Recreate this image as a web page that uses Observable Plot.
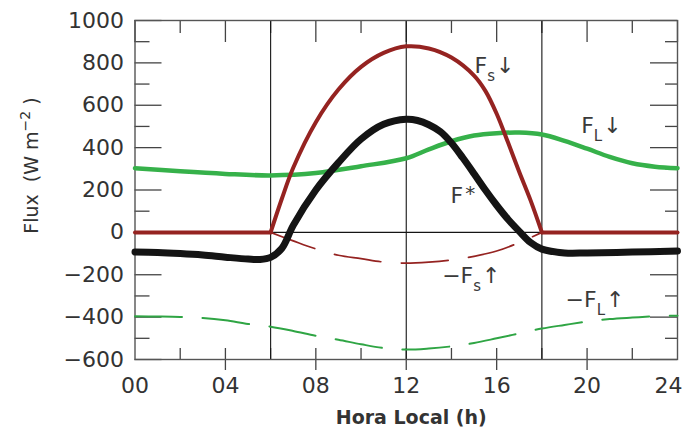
<!DOCTYPE html>
<html><head><meta charset="utf-8">
<script src="https://cdn.jsdelivr.net/npm/d3@7"></script>
<script src="https://cdn.jsdelivr.net/npm/@observablehq/plot@0.6"></script>
<style>body{margin:0;background:#fff}svg{display:block}</style>
</head><body><div id="chart"></div>
<script>
// ---- data (hours, W m^-2) ----
const fsDownHours  = [0, 6, 6.5, 7, 8, 9, 10, 11, 12, 13, 14, 15, 15.5, 16, 16.5, 17, 17.5, 18, 24];
const fsDownValues = [0, 0, 160, 305, 520, 674, 781, 847, 878, 868, 825, 740, 668, 560, 425, 285, 151, 0, 0];

const fStarHours  = [0, 1, 2, 3, 4, 5, 5.5, 6, 6.5, 7, 8, 9, 10, 11, 12, 12.5, 13, 13.5, 14, 14.5, 15, 15.5, 16, 16.5, 17, 17.5, 18, 19, 20, 22, 24];
const fStarValues = [-93, -95, -100, -107, -117, -126, -128, -118, -75, 33, 200, 329, 440, 510, 534, 528, 508, 476, 422, 352, 277, 200, 128, 62, 5, -48, -79, -97, -97, -93, -88];

const flDownHours  = [0, 2, 4, 6, 8, 10, 12, 13, 14, 15, 16, 17, 18, 19, 20, 21, 22, 23, 24];
const flDownValues = [303, 288, 276, 269, 280, 312, 350, 392, 430, 457, 468, 471, 462, 432, 395, 356, 326, 310, 303];

const fsUpHours  = [6, 7, 8, 9, 10, 11, 12, 13, 14, 15, 16, 17, 18];
const fsUpValues = [0, -40, -78, -108, -124, -140, -145, -140, -130, -113, -88, -48, 0];

const flUpHours  = [0, 1, 2, 3, 4, 5, 6, 7, 8, 9, 10, 11, 12, 13, 14, 15, 16, 17, 18, 19, 20, 21, 22, 23, 24];
const flUpValues = [-396, -397, -399, -404, -415, -432, -445, -465, -488, -507, -528, -546, -553, -548, -538, -522, -500, -477, -454, -437, -421, -409, -402, -396, -393];

const xTicksMajor = [0, 4, 8, 12, 16, 20, 24];
const xTicksMinor = [2, 6, 10, 14, 18, 22];
const yTicksMajor = [-600, -400, -200, 0, 200, 400, 600, 800, 1000];
const yTicksMinor = [-500, -300, -100, 100, 300, 500, 700, 900];
const dayLines = [6, 12, 18];

const xLabel = "Hora Local (h)";
const yLabelMain = "Flux  (W m";
const yLabelSup = "\u22122";
const yLabelEnd = " )";

// annotations: prefix, sub, sup, arrow, anchor (hour, value)
const annPrefix = ["", "", "", "\u2212", "\u2212"];
const annSub    = ["s", "L", "", "s", "L"];
const annSup    = ["", "", "*", "", ""];
const annArrow  = ["\u2193", "\u2193", "", "\u2191", "\u2191"];
const annHour   = [15.02, 19.74, 13.96, 13.59, 19.05];
const annValue  = [750, 467, 137, -241, -354];

// ---- build ----
const rows = (hs, vs) => hs.map((t, i) => ({t, v: vs[i]}));
const fsDown = rows(fsDownHours, fsDownValues);
const fStar = rows(fStarHours, fStarValues);
const flDown = rows(flDownHours, flDownValues);
const fsUp = rows(fsUpHours, fsUpValues);
const flUp = rows(flUpHours, flUpValues);
const annotations = annHour.map((t, i) => ({t, v: annValue[i], i}));

const W = 686, H = 427, mL = 134.5, mR = 9, mT = 20, mB = 68;
const plotW = W - mL - mR, plotH = H - mT - mB;
const RED = "#952321", GREEN = "#36b14a", DGREEN = "#2fa544", BLACK = "#141414", TICK = "#444";
const dash = "47,20.5";

const chart = Plot.plot({
  width: W, height: H,
  marginLeft: mL, marginRight: mR, marginTop: mT, marginBottom: mB,
  style: {fontFamily: "DejaVu Sans", fontSize: "22px", color: "#333", background: "#fff"},
  x: {domain: [0, 24], axis: null},
  y: {domain: [-600, 1000], axis: null},
  marks: [
    // ticks
    Plot.tickY(yTicksMajor, {y: d => d, insetRight: plotW - 27, stroke: TICK, strokeWidth: 1.3}),
    Plot.tickY(yTicksMinor, {y: d => d, insetRight: plotW - 15, stroke: TICK, strokeWidth: 1.3}),
    Plot.tickY(yTicksMajor, {y: d => d, insetLeft: plotW - 27, stroke: TICK, strokeWidth: 1.3}),
    Plot.tickY(yTicksMinor, {y: d => d, insetLeft: plotW - 12, stroke: TICK, strokeWidth: 1.3}),
    Plot.tickX(xTicksMajor, {x: d => d, insetBottom: plotH - 22, stroke: TICK, strokeWidth: 1.3}),
    Plot.tickX(xTicksMinor, {x: d => d, insetBottom: plotH - 13, stroke: TICK, strokeWidth: 1.3}),
    Plot.tickX(xTicksMajor.slice(1, -1), {x: d => d, insetTop: plotH - 11, insetBottom: -11, stroke: TICK, strokeWidth: 1.3}),
    Plot.tickX(xTicksMinor, {x: d => d, insetTop: plotH - 11, stroke: TICK, strokeWidth: 1.3}),
    Plot.ruleX(dayLines, {stroke: BLACK, strokeWidth: 1.1}),
    Plot.ruleY([0], {stroke: BLACK, strokeWidth: 1.1}),
    Plot.frame({stroke: "#555", strokeWidth: 1.4}),
    // axes labels
    Plot.axisY({ticks: yTicksMajor, tickSize: 0, tickPadding: 11, fontSize: 22, tickFormat: d => d < 0 ? "\u2212" + Math.abs(d) : String(d), label: null}),
    Plot.axisX({ticks: xTicksMajor, tickSize: 0, tickPadding: 18, fontSize: 22, tickFormat: d => String(d).padStart(2, "0"), label: null}),
    Plot.text([xLabel], {frameAnchor: "bottom", textAnchor: "middle", dy: 64, dx: 5, lineAnchor: "bottom", fontSize: 19, fontWeight: "bold", fill: "#333"}),
    Plot.text([yLabelMain], {frameAnchor: "left", textAnchor: "middle", rotate: -90, dx: -103.5, dy: -24.5, fontSize: 19, fill: "#333"}),
    // series
    Plot.line(flUp, {x: "t", y: "v", curve: "catmull-rom", stroke: DGREEN, strokeWidth: 2, strokeDasharray: dash}),
    Plot.line(flDown, {x: "t", y: "v", curve: "catmull-rom", stroke: GREEN, strokeWidth: 4.5}),
    Plot.line(fsUp, {x: "t", y: "v", curve: "catmull-rom", stroke: RED, strokeWidth: 1.7, strokeDasharray: dash}),
    Plot.line(fsDown, {x: "t", y: "v", filter: d => d.t <= 6, stroke: RED, strokeWidth: 4}),
    Plot.line(fsDown, {x: "t", y: "v", filter: d => d.t >= 18, stroke: RED, strokeWidth: 4}),
    Plot.line(fsDown, {x: "t", y: "v", filter: d => d.t >= 6 && d.t <= 18, curve: "catmull-rom", stroke: RED, strokeWidth: 4}),
    Plot.line(fStar, {x: "t", y: "v", curve: "catmull-rom", stroke: BLACK, strokeWidth: 7}),
    // annotation labels
    Plot.text(annotations, {x: "t", y: "v", text: d => annPrefix[d.i] + "F", textAnchor: "start", lineAnchor: "bottom", fontSize: 22, fill: "#3a3a3a"})
  ]
});

const svg = d3.select(chart);
// enrich annotation labels with subscripts / superscripts / arrows
const annTexts = svg.selectAll("text").filter(function() {
  return this.textContent === "F" || this.textContent === "\u2212F";
}).nodes();
annTexts.forEach((node, k) => {
  const i = annotations[k].i;
  const t = d3.select(node);
  t.text(null);
  t.append("tspan").text(annPrefix[i] + "F");
  if (annSub[i]) t.append("tspan").attr("font-size", 15).attr("dy", 8).text(annSub[i]);
  if (annSup[i]) t.append("tspan").attr("font-size", 20).attr("dx", 2).attr("dy", -3).text(annSup[i]);
  if (annArrow[i]) t.append("tspan").attr("dy", annSub[i] ? -8 : 0).attr("dx", 1).text(annArrow[i]);
});

// y label with superscript exponent
svg.selectAll("text").filter(function() { return this.textContent === yLabelMain; }).each(function() {
  const t = d3.select(this);
  t.text(null);
  t.append("tspan").text(yLabelMain);
  t.append("tspan").attr("font-size", 14).attr("dy", -8).text(yLabelSup);
  t.append("tspan").attr("dy", 8).text(yLabelEnd);
});

// keep the last x tick label inside the page, as in the reference
svg.selectAll("text").filter(function() { return this.textContent === "24"; }).attr("dx", -9);

document.getElementById("chart").appendChild(chart);
</script>
</body></html>
